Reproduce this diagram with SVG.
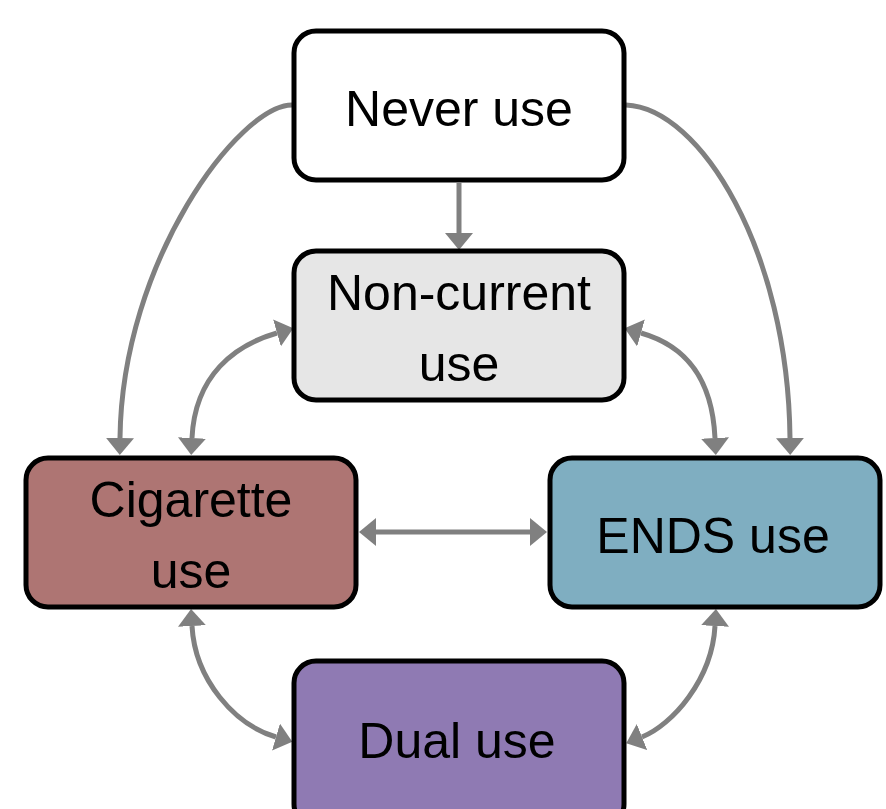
<svg xmlns="http://www.w3.org/2000/svg" width="886" height="809" viewBox="0 0 886 809">
<defs>
<style>
.box{stroke:#000;stroke-width:5}
.lbl{font-family:"Liberation Sans",Arial,sans-serif;font-size:50px;fill:#000;text-anchor:middle}
.con{fill:none;stroke:#808080;stroke-width:5}
</style>
<marker id="ah" viewBox="0 0 17 28" refX="0" refY="14" markerWidth="17" markerHeight="28" markerUnits="userSpaceOnUse" orient="auto-start-reverse">
<path d="M0,0 L17,14 L0,28 Z" fill="#808080"/>
</marker>
</defs>
<rect width="886" height="809" fill="#fff"/>
<g id="connectors">
<path class="con" d="M459,183 L459,233" marker-end="url(#ah)"/>
<path class="con" d="M292,105 C240,105 122,260 120,438" marker-end="url(#ah)"/>
<path class="con" d="M626,105 C700,108 788,250 790,438" marker-end="url(#ah)"/>
<path class="con" d="M277,333 C235,345 195,375 192,438" marker-start="url(#ah)" marker-end="url(#ah)"/>
<path class="con" d="M641,333 C683,345 712,375 715,438" marker-start="url(#ah)" marker-end="url(#ah)"/>
<path class="con" d="M376,532 L530,532" marker-start="url(#ah)" marker-end="url(#ah)"/>
<path class="con" d="M192,626 C195,680 235,725 276,737" marker-start="url(#ah)" marker-end="url(#ah)"/>
<path class="con" d="M715,626 C712,680 672,725 642,737" marker-start="url(#ah)" marker-end="url(#ah)"/>
</g>
<g id="never">
<rect class="box" x="294" y="31" width="330" height="149" rx="22" fill="#ffffff"/>
<text class="lbl" x="459" y="126">Never use</text>
</g>
<g id="noncurrent">
<rect class="box" x="294" y="251" width="330" height="149" rx="22" fill="#e6e6e6"/>
<text class="lbl" x="459" y="310">Non-current</text>
<text class="lbl" x="459" y="381">use</text>
</g>
<g id="cigarette">
<rect class="box" x="26" y="458" width="330" height="149" rx="22" fill="#ae7573"/>
<text class="lbl" x="191" y="517">Cigarette</text>
<text class="lbl" x="191" y="588">use</text>
</g>
<g id="ends">
<rect class="box" x="550" y="458" width="330" height="149" rx="22" fill="#7faec1"/>
<text class="lbl" x="713" y="553">ENDS use</text>
</g>
<g id="dual">
<rect class="box" x="294" y="661" width="330" height="165" rx="22" fill="#8f7ab3"/>
<text class="lbl" x="457" y="758">Dual use</text>
</g>
</svg>
